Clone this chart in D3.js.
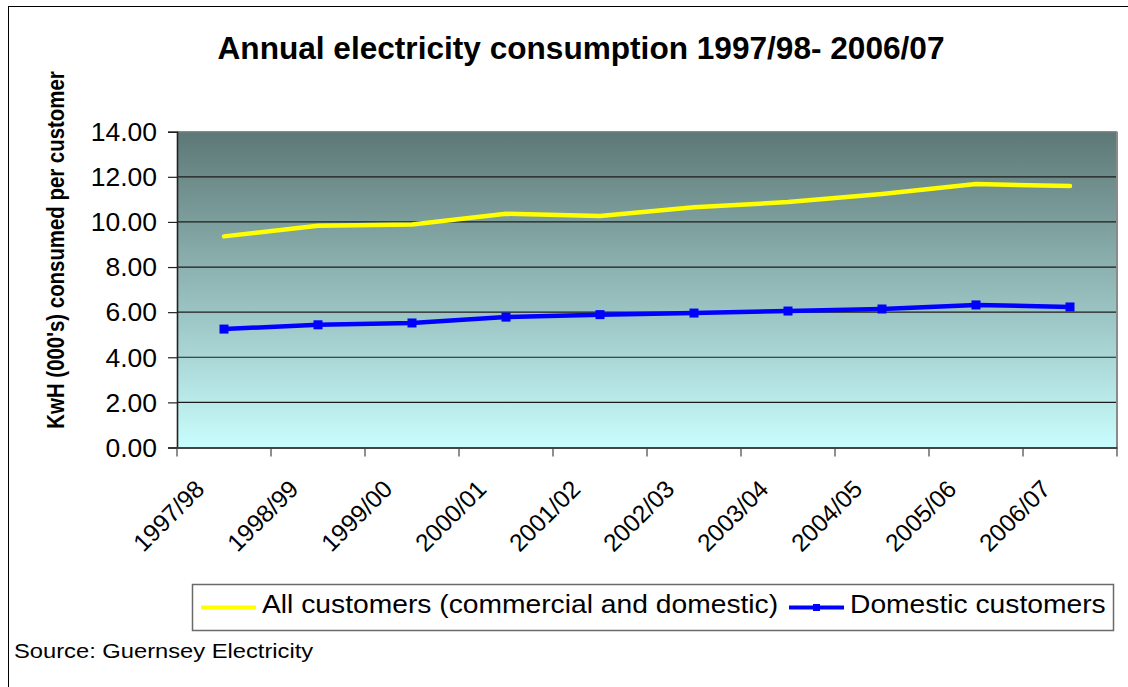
<!DOCTYPE html>
<html>
<head>
<meta charset="utf-8">
<script src="https://cdn.jsdelivr.net/npm/d3@7"></script>
<style>
  html, body { margin: 0; padding: 0; background: #ffffff; }
  svg { display: block; }
  text { font-family: "Liberation Sans", Arial, sans-serif; fill: #000; }
</style>
</head>
<body>
<svg id="chart" width="1128" height="687"></svg>
<script>
// Financial years on the category axis
const categories = ["1997/98", "1998/99", "1999/00", "2000/01", "2001/02",
                    "2002/03", "2003/04", "2004/05", "2005/06", "2006/07"];
// KwH (000's) consumed per customer
const allCustomers = [9.36, 9.83, 9.89, 10.36, 10.26, 10.65, 10.88, 11.24, 11.68, 11.59];
const domesticCustomers = [5.25, 5.44, 5.52, 5.78, 5.89, 5.96, 6.05, 6.14, 6.32, 6.23];
const yTicks = [0, 2, 4, 6, 8, 10, 12, 14];
const seriesNames = ["All customers (commercial and domestic)", "Domestic customers"];

const W = 1128, H = 687;
const plot = { left: 177, right: 1117, top: 131.7, bottom: 447.5 };
const SX = 1.13; // horizontal stretch of the lettering

const svg = d3.select("#chart");

// outer frame of the chart
svg.append("rect")
  .attr("x", 8.5).attr("y", 6.5)
  .attr("width", W + 10).attr("height", H + 10)
  .attr("fill", "#fff").attr("stroke", "#000").attr("stroke-width", 1);

// plot background gradient
const defs = svg.append("defs");
const grad = defs.append("linearGradient").attr("id", "plotBg")
  .attr("x1", 0).attr("y1", 0).attr("x2", 0).attr("y2", 1);
grad.append("stop").attr("offset", "0%").attr("stop-color", "#5d7876");
grad.append("stop").attr("offset", "100%").attr("stop-color", "#c9fdfd");

const x = d3.scaleBand().domain(categories).range([plot.left, plot.right]);
const y = d3.scaleLinear().domain([0, 14]).range([plot.bottom, plot.top]);
const cx = d => x(d) + x.bandwidth() / 2;

svg.append("rect")
  .attr("x", plot.left).attr("y", plot.top)
  .attr("width", plot.right - plot.left).attr("height", plot.bottom - plot.top)
  .attr("fill", "url(#plotBg)");

// horizontal gridlines
svg.append("g").selectAll("line")
  .data(yTicks.filter(t => t > 0 && t < 14))
  .join("line")
  .attr("x1", plot.left).attr("x2", plot.right)
  .attr("y1", d => y(d)).attr("y2", d => y(d))
  .attr("stroke", "#1c1c1c").attr("stroke-width", 1.2);

// top and right border of the plot
svg.append("line").attr("x1", plot.left).attr("x2", plot.right)
  .attr("y1", plot.top).attr("y2", plot.top)
  .attr("stroke", "#8a8a8a").attr("stroke-width", 1.2);
svg.append("line").attr("x1", plot.right).attr("x2", plot.right)
  .attr("y1", plot.top).attr("y2", plot.bottom)
  .attr("stroke", "#8a8a8a").attr("stroke-width", 2);

// y axis
const yAxis = svg.append("g")
  .attr("transform", `translate(${plot.left},0)`)
  .call(d3.axisLeft(y).tickValues(yTicks).tickSize(9).tickFormat(d3.format(".2f")));
yAxis.select(".domain").attr("stroke", "#222").attr("stroke-width", 1.6);
yAxis.selectAll(".tick line").attr("stroke", "#222").attr("stroke-width", 1.2);
yAxis.selectAll(".tick text").remove();
yAxis.selectAll(".tick").append("g")
  .attr("transform", `translate(-20,0) scale(1.06,1)`)
  .append("text")
  .attr("text-anchor", "end").attr("dy", "0.35em")
  .style("font-size", "25px")
  .text(d => d3.format(".2f")(d));

// x axis
const xAxis = svg.append("g")
  .attr("transform", `translate(0,${plot.bottom})`)
  .call(d3.axisBottom(x).tickSize(0).tickFormat(""));
xAxis.select(".domain").attr("stroke", "#444").attr("stroke-width", 2);
xAxis.selectAll(".tick").remove();
// tick marks on category boundaries
xAxis.append("g").selectAll("line")
  .data(d3.range(categories.length + 1))
  .join("line")
  .attr("x1", i => plot.left + i * x.step()).attr("x2", i => plot.left + i * x.step())
  .attr("y1", 0).attr("y2", 9)
  .attr("stroke", "#444").attr("stroke-width", 1.2);
// rotated category labels
xAxis.append("g").selectAll("text")
  .data(categories)
  .join("text")
  .attr("transform", d => `translate(${cx(d) - 18},${43}) rotate(-45)`)
  .attr("text-anchor", "end")
  .style("font-size", "24.5px")
  .text(d => d);

// data lines
const line = d3.line().x((d, i) => cx(categories[i])).y(d => y(d));

svg.append("path").datum(allCustomers)
  .attr("d", line).attr("fill", "none")
  .attr("stroke", "#ffff00").attr("stroke-width", 4.5)
  .attr("stroke-linejoin", "round").attr("stroke-linecap", "round");

svg.append("path").datum(domesticCustomers)
  .attr("d", line).attr("fill", "none")
  .attr("stroke", "#0000ff").attr("stroke-width", 4.5)
  .attr("stroke-linejoin", "round");

svg.append("g").selectAll("rect")
  .data(domesticCustomers)
  .join("rect")
  .attr("x", (d, i) => cx(categories[i]) - 4.5)
  .attr("y", d => y(d) - 4.5)
  .attr("width", 9).attr("height", 9)
  .attr("fill", "#0000ff");

// title
svg.append("text")
  .attr("x", 581).attr("y", 59)
  .attr("text-anchor", "middle")
  .style("font-size", "31.6px").style("font-weight", "bold")
  .text("Annual electricity consumption 1997/98- 2006/07");

// y axis title
svg.append("g")
  .attr("transform", `translate(64,250) rotate(-90) scale(0.85,1)`)
  .append("text")
  .attr("text-anchor", "middle")
  .style("font-size", "24px").style("font-weight", "bold")
  .text("KwH (000's) consumed per customer");

// legend
const legend = svg.append("g");
legend.append("rect")
  .attr("x", 192.5).attr("y", 584.5).attr("width", 921).attr("height", 46)
  .attr("fill", "#fff").attr("stroke", "#6a6a6a").attr("stroke-width", 1.5);

legend.append("line").attr("x1", 201).attr("x2", 256).attr("y1", 607.5).attr("y2", 607.5)
  .attr("stroke", "#ffff00").attr("stroke-width", 4);
legend.append("g").attr("transform", `translate(262,613) scale(${SX},1)`)
  .append("text").style("font-size", "25px").text(seriesNames[0]);

legend.append("line").attr("x1", 789).attr("x2", 844).attr("y1", 607.5).attr("y2", 607.5)
  .attr("stroke", "#0000ff").attr("stroke-width", 4);
legend.append("rect").attr("x", 813).attr("y", 604).attr("width", 7).attr("height", 7)
  .attr("fill", "#0000ff");
legend.append("g").attr("transform", `translate(850,613) scale(${SX},1)`)
  .append("text").style("font-size", "25px").text(seriesNames[1]);

// source note
svg.append("g").attr("transform", `translate(14,658) scale(${SX},1)`)
  .append("text").style("font-size", "21px").text("Source: Guernsey Electricity");
</script>
</body>
</html>
